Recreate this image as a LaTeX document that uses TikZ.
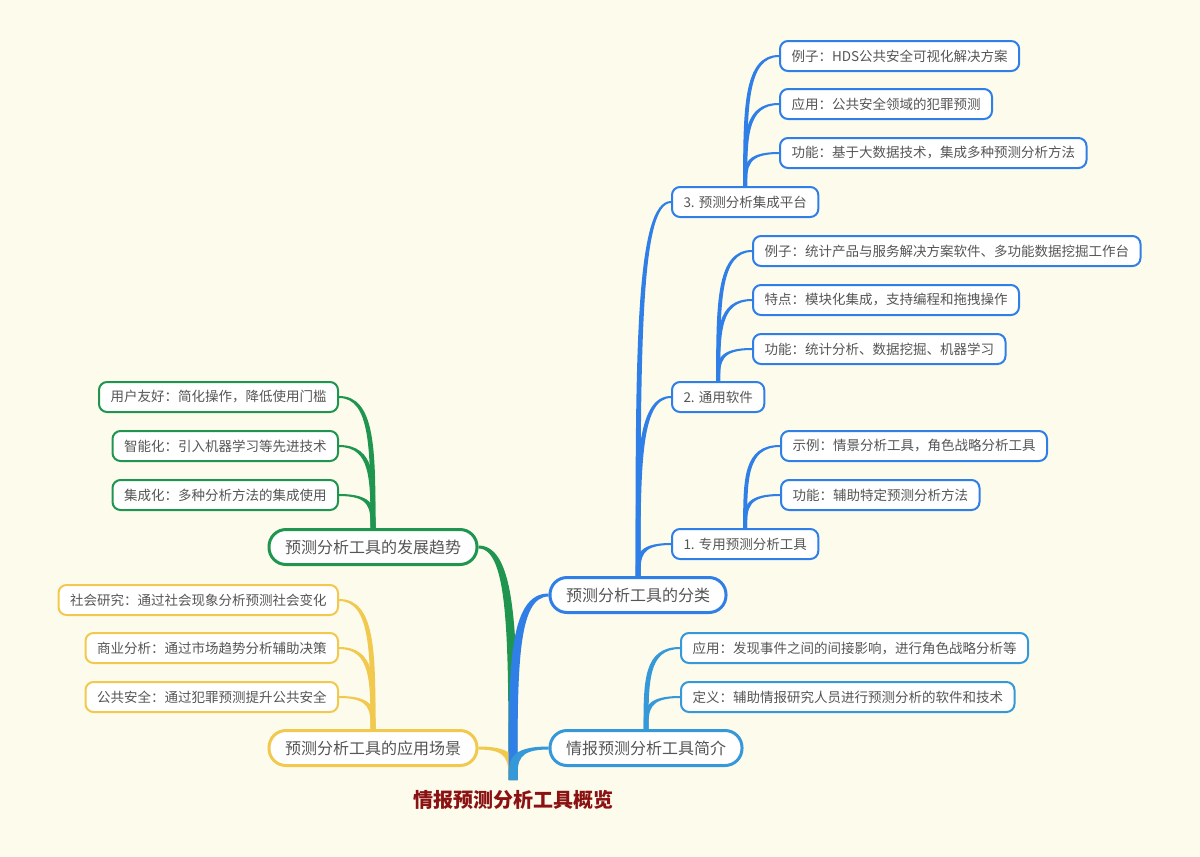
\documentclass[tikz,border=0pt]{standalone}
\usepackage{fontspec}
\setmainfont{Noto Sans CJK SC}
\usetikzlibrary{calc}

\definecolor{paper}{HTML}{FDFBEC}
\definecolor{ink}{HTML}{555555}
\definecolor{rootred}{HTML}{8B1212}
\definecolor{kindblue}{HTML}{2F7FE6}
\definecolor{introblue}{HTML}{3598D8}
\definecolor{trendgreen}{HTML}{1F9550}
\definecolor{useyellow}{HTML}{F0C94E}

\tikzset{
    topic/.style={draw=#1,line width=3pt,fill=white,rounded corners=17pt,minimum height=35pt,
        inner xsep=16pt,text=ink,font=\fontsize{16}{18}\selectfont},
    leaf/.style={draw=#1,line width=2pt,fill=white,rounded corners=8pt,minimum height=30pt,
        inner xsep=11.5pt,text=ink,font=\fontsize{13.5}{16}\selectfont}
}

% tapered branch: colour, from, to, half width at start, half width at end (negative = to the left)
\newcommand{\twig}[5]{%
    \coordinate (twigfrom) at (#2);
    \coordinate (twigto) at (#3);
    \coordinate (twigbend) at ($(twigfrom |- twigto)!0.4!(twigfrom)$);
    \fill[#1] let \p1=(twigfrom), \p2=(twigto), \p3=(twigbend) in
        (\x1-#4,\y1) .. controls (\x1-#4,\y3) and (\x1-#4,\y2+#5) .. (\x2,\y2+#5)
        -- (\x2,\y2-#5) .. controls (\x1+#4,\y2-#5) and (\x1+#4,\y3) .. (\x1+#4,\y1) -- cycle;}

\begin{document}
\begin{tikzpicture}[x=1pt,y=-1pt]
        \fill[paper] (0,0) rectangle (1200,857);
        \useasboundingbox (0,0) rectangle (1200,857);

        \coordinate (stem) at (513,780);
        \node[text=rootred,font=\fontsize{20}{24}\selectfont\bfseries] (root) at (513,800) {情报预测分析工具概览};

        \node[topic=trendgreen,anchor=east] (trend) at (478.5,547) {预测分析工具的发展趋势};
        \node[topic=useyellow,anchor=east] (usage) at (478.5,748) {预测分析工具的应用场景};
        \node[topic=kindblue,anchor=west] (kinds) at (548.5,595) {预测分析工具的分类};
        \node[topic=introblue,anchor=west] (intro) at (548.5,748) {情报预测分析工具简介};

        \node[leaf=kindblue,anchor=west] (k1) at (671,544) {1. 专用预测分析工具};
        \node[leaf=kindblue,anchor=west] (k2) at (671,397) {2. 通用软件};
        \node[leaf=kindblue,anchor=west] (k3) at (671,202) {3. 预测分析集成平台};

        \node[leaf=kindblue,anchor=west] (k1a) at (780,446) {示例：情景分析工具，角色战略分析工具};
        \node[leaf=kindblue,anchor=west] (k1b) at (780,495) {功能：辅助特定预测分析方法};

        \node[leaf=kindblue,anchor=west] (k2a) at (752,251) {例子：统计产品与服务解决方案软件、多功能数据挖掘工作台};
        \node[leaf=kindblue,anchor=west] (k2b) at (752,300) {特点：模块化集成，支持编程和拖拽操作};
        \node[leaf=kindblue,anchor=west] (k2c) at (752,349) {功能：统计分析、数据挖掘、机器学习};

        \node[leaf=kindblue,anchor=west] (k3a) at (779,56) {例子：HDS公共安全可视化解决方案};
        \node[leaf=kindblue,anchor=west] (k3b) at (779,104) {应用：公共安全领域的犯罪预测};
        \node[leaf=kindblue,anchor=west] (k3c) at (779,153) {功能：基于大数据技术，集成多种预测分析方法};

        \node[leaf=introblue,anchor=west] (i1) at (680,648) {应用：发现事件之间的间接影响，进行角色战略分析等};
        \node[leaf=introblue,anchor=west] (i2) at (680,697) {定义：辅助情报研究人员进行预测分析的软件和技术};

        \node[leaf=trendgreen,anchor=east] (t1) at (339,397) {用户友好：简化操作，降低使用门槛};
        \node[leaf=trendgreen,anchor=east] (t2) at (339,446) {智能化：引入机器学习等先进技术};
        \node[leaf=trendgreen,anchor=east] (t3) at (339,495) {集成化：多种分析方法的集成使用};

        \node[leaf=useyellow,anchor=east] (u1) at (339,600) {社会研究：通过社会现象分析预测社会变化};
        \node[leaf=useyellow,anchor=east] (u2) at (339,648) {商业分析：通过市场趋势分析辅助决策};
        \node[leaf=useyellow,anchor=east] (u3) at (339,697) {公共安全：通过犯罪预测提升公共安全};

        % branches from the root
        \twig{trendgreen}{stem}{trend.east}{4.5pt}{-1.5pt}
        \twig{useyellow}{stem}{usage.east}{4.5pt}{-1.5pt}
        \twig{kindblue}{stem}{kinds.west}{4.5pt}{1.5pt}
        \twig{introblue}{stem}{intro.west}{4.5pt}{1.5pt}

        % twigs to the leaves
        \foreach \n in {k1,k2,k3}
            \twig{kindblue}{kinds.north}{\n.west}{2.5pt}{1pt};
        \foreach \n in {k1a,k1b}
            \twig{kindblue}{k1.north}{\n.west}{2pt}{1pt};
        \foreach \n in {k2a,k2b,k2c}
            \twig{kindblue}{k2.north}{\n.west}{2pt}{1pt};
        \foreach \n in {k3a,k3b,k3c}
            \twig{kindblue}{k3.north}{\n.west}{2pt}{1pt};
        \foreach \n in {i1,i2}
            \twig{introblue}{intro.north}{\n.west}{2.5pt}{1pt};
        \foreach \n in {t1,t2,t3}
            \twig{trendgreen}{trend.north}{\n.east}{2.5pt}{-1pt};
        \foreach \n in {u1,u2,u3}
            \twig{useyellow}{usage.north}{\n.east}{2.5pt}{-1pt};

    \end{tikzpicture}
\end{document}
